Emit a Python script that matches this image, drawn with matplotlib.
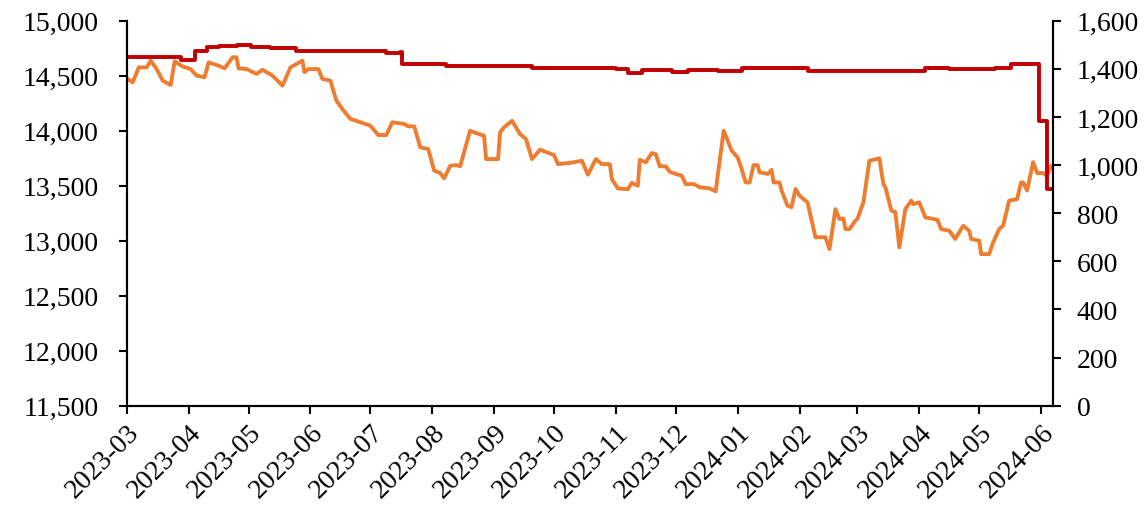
import matplotlib
matplotlib.use("Agg")
import matplotlib.pyplot as plt
import matplotlib.dates as mdates
import matplotlib.ticker as mticker
import pandas as pd

# red series (left axis), stepwise levels: change dates and values
red_dates = ["2023-03-01", "2023-03-28", "2023-04-04", "2023-04-10", "2023-04-16",
             "2023-04-25", "2023-05-02", "2023-05-12", "2023-05-25", "2023-07-09",
             "2023-07-16", "2023-07-17", "2023-08-08", "2023-09-20", "2023-10-06",
             "2023-11-01", "2023-11-07", "2023-11-14", "2023-11-29", "2023-12-07",
             "2023-12-22", "2024-01-03", "2024-02-05", "2024-03-20", "2024-04-04",
             "2024-04-16", "2024-05-09", "2024-05-17", "2024-05-31", "2024-06-04",
             "2024-06-07"]
red_values = [14670, 14645, 14727, 14758, 14773,
              14782, 14764, 14752, 14725, 14710,
              14720, 14606, 14588, 14570, 14573,
              14560, 14527, 14549, 14536, 14555,
              14540, 14570, 14540, 14545, 14570,
              14558, 14570, 14606, 14091, 13470,
              13470]

# orange series (right axis)
orange_dates = [
    "2023-03-01", "2023-03-04", "2023-03-07", "2023-03-11", "2023-03-13", "2023-03-16",
    "2023-03-19", "2023-03-23", "2023-03-25", "2023-03-29", "2023-04-02", "2023-04-05",
    "2023-04-09", "2023-04-11", "2023-04-16", "2023-04-19", "2023-04-23", "2023-04-25",
    "2023-04-26", "2023-04-30", "2023-05-05", "2023-05-08", "2023-05-13", "2023-05-18",
    "2023-05-22", "2023-05-28", "2023-05-29", "2023-05-31", "2023-06-05", "2023-06-07",
    "2023-06-11", "2023-06-14", "2023-06-17", "2023-06-21", "2023-06-26", "2023-07-01",
    "2023-07-05", "2023-07-09", "2023-07-12", "2023-07-18", "2023-07-20", "2023-07-23",
    "2023-07-26", "2023-07-30", "2023-08-02", "2023-08-05", "2023-08-07", "2023-08-10",
    "2023-08-13", "2023-08-15", "2023-08-20", "2023-08-23", "2023-08-27", "2023-08-28",
    "2023-09-03", "2023-09-04", "2023-09-06", "2023-09-10", "2023-09-14", "2023-09-17",
    "2023-09-20", "2023-09-24", "2023-10-01", "2023-10-03", "2023-10-09", "2023-10-15",
    "2023-10-18", "2023-10-22", "2023-10-25", "2023-10-29", "2023-10-30", "2023-11-02",
    "2023-11-07", "2023-11-09", "2023-11-12", "2023-11-13", "2023-11-16", "2023-11-19",
    "2023-11-21", "2023-11-23", "2023-11-26", "2023-11-28", "2023-12-01", "2023-12-04",
    "2023-12-06", "2023-12-10", "2023-12-13", "2023-12-18", "2023-12-21", "2023-12-25",
    "2023-12-29", "2024-01-01", "2024-01-03", "2024-01-05", "2024-01-07", "2024-01-09",
    "2024-01-11", "2024-01-12", "2024-01-16", "2024-01-18", "2024-01-19", "2024-01-22",
    "2024-01-23", "2024-01-26", "2024-01-28", "2024-01-30", "2024-02-01", "2024-02-05",
    "2024-02-09", "2024-02-14", "2024-02-16", "2024-02-19", "2024-02-21", "2024-02-23",
    "2024-02-24", "2024-02-26", "2024-02-29", "2024-03-01", "2024-03-04", "2024-03-07",
    "2024-03-12", "2024-03-14", "2024-03-15", "2024-03-18", "2024-03-20", "2024-03-22",
    "2024-03-25", "2024-03-28", "2024-03-29", "2024-04-01", "2024-04-04", "2024-04-10",
    "2024-04-12", "2024-04-16", "2024-04-19", "2024-04-23", "2024-04-26", "2024-04-27",
    "2024-05-01", "2024-05-02", "2024-05-06", "2024-05-08", "2024-05-11", "2024-05-13",
    "2024-05-16", "2024-05-20", "2024-05-22", "2024-05-23", "2024-05-25", "2024-05-28",
    "2024-05-30", "2024-06-02", "2024-06-04", "2024-06-06"]
orange_values = [
    1361, 1344, 1406, 1406, 1434, 1399,
    1351, 1333, 1431, 1410, 1399, 1372,
    1365, 1427, 1413, 1402, 1448, 1448,
    1402, 1399, 1379, 1396, 1372, 1330,
    1406, 1434, 1386, 1399, 1399, 1358,
    1351, 1268, 1233, 1192, 1178, 1164,
    1125, 1125, 1178, 1171, 1161, 1161,
    1074, 1067, 977, 967, 945, 997,
    1000, 995, 1143, 1133, 1122, 1025,
    1025, 1136, 1157, 1184, 1129, 1108,
    1025, 1064, 1042, 1004, 1009, 1018,
    960, 1025, 1004, 1004, 942, 903,
    900, 926, 914, 1022, 1012, 1050,
    1045, 995, 995, 972, 963, 956,
    921, 921, 908, 903, 891, 1143,
    1060, 1032, 984, 928, 928, 1000,
    1000, 970, 963, 980, 928, 928,
    894, 831, 825, 901, 873, 845,
    700, 700, 651, 817, 776, 778,
    734, 734, 769, 776, 845, 1018,
    1028, 921, 908, 811, 805, 658,
    817, 852, 838, 845, 783, 773,
    734, 727, 693, 748, 727, 693,
    686, 630, 630, 679, 734, 748,
    852, 859, 928, 928, 894, 1012,
    967, 967, 955, 995]

left_ticks = [11500, 12000, 12500, 13000, 13500, 14000, 14500, 15000]
right_ticks = [0, 200, 400, 600, 800, 1000, 1200, 1400, 1600]

plt.rcParams['font.family'] = ['Liberation Serif', 'DejaVu Serif']
plt.rcParams['font.size'] = 20

fig = plt.figure(figsize=(11.45, 5.06), dpi=100)
ax = fig.add_axes([0.1107, 0.1962, 0.9197 - 0.1107, 0.9571 - 0.1962])
ax2 = ax.twinx()

ax2.plot(pd.to_datetime(orange_dates), orange_values, color="#ED7D31", lw=2.8,
         solid_joinstyle="round")
ax.plot(pd.to_datetime(red_dates), red_values, color="#C00000", lw=2.8,
        drawstyle="steps-post")

ax.set_zorder(ax2.get_zorder() + 1)
ax.patch.set_visible(False)

ax.set_xlim(pd.Timestamp("2023-03-01"), pd.Timestamp("2024-06-07"))
ax.set_ylim(11500, 15000)
ax2.set_ylim(0, 1600)
ax.set_yticks(left_ticks)
ax2.set_yticks(right_ticks)
fmt = mticker.FuncFormatter(lambda v, p: f"{int(v):,}")
ax.yaxis.set_major_formatter(fmt)
ax2.yaxis.set_major_formatter(fmt)

ax.xaxis.set_major_locator(mdates.MonthLocator())
ax.xaxis.set_major_formatter(mdates.DateFormatter("%Y-%m"))
for lbl in ax.get_xticklabels():
    lbl.set_rotation(45)
    lbl.set_ha("right")
    lbl.set_rotation_mode("anchor")

for a in (ax, ax2):
    a.spines["top"].set_visible(False)
    for s in ("left", "right", "bottom"):
        a.spines[s].set_linewidth(1.5)
    a.tick_params(direction="out", length=6, width=1.5, labelsize=20)
ax.tick_params(axis="x", pad=4)
ax.tick_params(axis="y", pad=14)
ax2.tick_params(axis="y", pad=11)

fig.savefig("out.png", dpi=100)
